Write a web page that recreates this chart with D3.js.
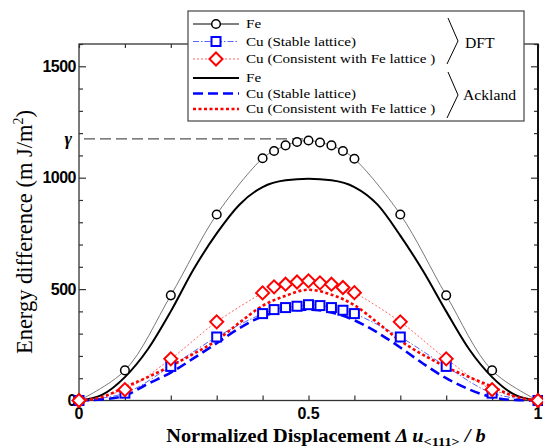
<!DOCTYPE html>
<html>
<head>
<meta charset="utf-8">
<script src="https://cdn.jsdelivr.net/npm/d3@7"></script>
<style>
  html, body { margin: 0; padding: 0; background: #fff; }
  svg { display: block; }
</style>
</head>
<body>
<div id="chart"></div>
<script>
// ── data ──
const xDft        = [0, 0.1, 0.2, 0.3, 0.4, 0.425, 0.45, 0.475, 0.5, 0.525, 0.55, 0.575, 0.6, 0.7, 0.8, 0.9, 1];
const dftFe       = [0, 135, 472, 835, 1087, 1120, 1145, 1160, 1167, 1158, 1145, 1120, 1085, 835, 472, 135, 0];
const dftCuStable = [0, 33, 153, 285, 390, 408, 417, 423, 430, 426, 417, 405, 390, 285, 153, 33, 0];
const dftCuFeLat  = [0, 49, 187, 353, 483, 510, 522, 532, 537, 528, 522, 507, 484, 353, 187, 49, 0];

const xAck        = [0, 0.05, 0.1, 0.15, 0.2, 0.25, 0.3, 0.35, 0.4, 0.45, 0.5, 0.55, 0.6, 0.65, 0.7, 0.75, 0.8, 0.85, 0.9, 0.95, 1];
const ackFe       = [0, 25, 105, 230, 400, 590, 750, 880, 958, 988, 995, 988, 958, 880, 740, 580, 400, 230, 105, 25, 0];
const ackCuStable = [0, 5, 22, 75, 125, 190, 257, 325, 378, 403, 408, 395, 360, 305, 238, 165, 100, 50, 15, 2, 0];
const ackCuFeLat  = [0, 15, 60, 105, 155, 210, 270, 350, 425, 470, 497, 475, 428, 350, 268, 205, 150, 105, 62, 18, 0];

const gammaValue  = 1174;
const xTickLabels = [0, 0.5, 1];
const yTickLabels = [0, 500, 1000, 1500];

const legendRows = [
  "Fe", "Cu (Stable lattice)", "Cu (Consistent with Fe lattice )",
  "Fe", "Cu (Stable lattice)", "Cu (Consistent with Fe lattice )"
];

// ── layout ──
const W = 543, H = 448;
const pLeft = 79, pRight = 538, pTop = 44, pBottom = 400.5;
const SERIF = "Liberation Serif, Times New Roman, serif";
const SANS  = "Liberation Sans, Arial, sans-serif";

const svg = d3.select("#chart").append("svg").attr("width", W).attr("height", H);

const x = d3.scaleLinear().domain([0, 1]).range([pLeft, pRight]);
const y = d3.scaleLinear().domain([0, 1600]).range([pBottom, pTop]);

const BLUE = "#0000ff", RED = "#ff0000";

// ── axes (ticks inward, mirrored) ──
const majorY = (v) => v % 500 === 0;
const axisG = svg.append("g");

axisG.append("g").attr("transform", `translate(${pLeft},0)`)
  .call(d3.axisRight(y).tickValues(d3.range(0, 1601, 100)).tickSize(4).tickFormat(""))
  .call((g) => g.selectAll(".tick line").attr("x2", (d) => majorY(d) ? 7 : 4))
  .call((g) => g.select(".domain").remove());
axisG.append("g").attr("transform", `translate(${pRight},0)`)
  .call(d3.axisLeft(y).tickValues(d3.range(0, 1601, 100)).tickSize(4).tickFormat(""))
  .call((g) => g.selectAll(".tick line").attr("x2", (d) => majorY(d) ? -7 : -4))
  .call((g) => g.select(".domain").remove());
axisG.append("g").attr("transform", `translate(0,${pBottom})`)
  .call(d3.axisTop(x).tickValues(d3.range(0, 1.01, 0.1)).tickSize(5).tickFormat(""))
  .call((g) => g.select(".domain").remove());
axisG.append("g").attr("transform", `translate(0,${pTop})`)
  .call(d3.axisBottom(x).tickValues(d3.range(0, 1.01, 0.1)).tickSize(4).tickFormat(""))
  .call((g) => g.select(".domain").remove());
axisG.selectAll(".tick line").attr("stroke", "#333").attr("stroke-width", 1.2);

svg.append("rect")
  .attr("x", pLeft).attr("y", pTop)
  .attr("width", pRight - pLeft).attr("height", pBottom - pTop)
  .attr("fill", "none").attr("stroke", "#333").attr("stroke-width", 1.3);
svg.append("line")
  .attr("x1", pRight).attr("x2", pRight).attr("y1", pTop).attr("y2", pBottom)
  .attr("stroke", "#111").attr("stroke-width", 2);

// tick labels
svg.append("g").selectAll("text").data(yTickLabels).join("text")
  .attr("x", pLeft - 3).attr("y", (d) => y(d)).attr("dy", "0.36em")
  .attr("text-anchor", "end")
  .attr("font-family", SANS)
  .attr("font-weight", "bold").attr("font-size", 16)
  .attr("letter-spacing", "-0.5")
  .text((d) => d);
svg.append("g").selectAll("text").data(xTickLabels).join("text")
  .attr("x", (d) => x(d)).attr("y", pBottom + 18)
  .attr("text-anchor", "middle")
  .attr("font-family", SANS)
  .attr("font-weight", "bold").attr("font-size", 16)
  .text((d) => d);

// gamma reference
svg.append("line")
  .attr("x1", pLeft + 5).attr("x2", x(0.5))
  .attr("y1", y(gammaValue)).attr("y2", y(gammaValue))
  .attr("stroke", "#555").attr("stroke-width", 1.2).attr("stroke-dasharray", "11,5");
svg.append("text")
  .attr("x", pLeft - 7).attr("y", y(gammaValue)).attr("dy", "0.35em")
  .attr("text-anchor", "end")
  .attr("font-family", SERIF)
  .attr("font-style", "italic").attr("font-weight", "bold").attr("font-size", 18)
  .text("γ");

// axis titles (source figure is stretched ~1.1x horizontally)
const xt = svg.append("g").attr("transform", "translate(326,442) scale(1.1,1)")
  .append("text").attr("text-anchor", "middle")
  .attr("font-family", SERIF)
  .attr("font-weight", "bold").attr("font-size", 18.5);
xt.append("tspan").text("Normalized Displacement ");
xt.append("tspan").attr("font-style", "italic").text("Δ u");
xt.append("tspan").attr("font-size", 13).attr("dy", 4).text("<111>");
xt.append("tspan").attr("dy", -4).attr("font-style", "italic").text(" / b");

const yt = svg.append("text")
  .attr("transform", "translate(32,232) rotate(-90)")
  .attr("text-anchor", "middle")
  .attr("font-family", SERIF)
  .attr("font-size", 22.5);
yt.append("tspan").text("Energy difference (m J/m");
yt.append("tspan").attr("font-size", 14).attr("dy", -9).text("2");
yt.append("tspan").attr("dy", 9).text(")");

// ── curves ──
const plot = svg.append("g");
const smooth = (xs, ys, curve) => d3.line()
  .x((d, i) => x(xs[i])).y((d) => y(d)).curve(curve)(ys);

// DFT connecting lines (thin)
plot.append("path").attr("d", smooth(xDft, dftFe, d3.curveCatmullRom.alpha(0.5)))
  .attr("fill", "none").attr("stroke", "#777").attr("stroke-width", 1);
plot.append("path").attr("d", smooth(xDft, dftCuStable, d3.curveCatmullRom.alpha(0.5)))
  .attr("fill", "none").attr("stroke", "#5566ff").attr("stroke-width", 1)
  .attr("stroke-dasharray", "6,2,1.5,2");
plot.append("path").attr("d", smooth(xDft, dftCuFeLat, d3.curveCatmullRom.alpha(0.5)))
  .attr("fill", "none").attr("stroke", "#ff6666").attr("stroke-width", 1)
  .attr("stroke-dasharray", "2,2");

// Ackland (thick)
plot.append("path").attr("d", smooth(xAck, ackFe, d3.curveMonotoneX))
  .attr("fill", "none").attr("stroke", "#000").attr("stroke-width", 2);
plot.append("path").attr("d", smooth(xAck, ackCuStable, d3.curveMonotoneX))
  .attr("fill", "none").attr("stroke", BLUE).attr("stroke-width", 2.6)
  .attr("stroke-dasharray", "10,5");
plot.append("path").attr("d", smooth(xAck, ackCuFeLat, d3.curveMonotoneX))
  .attr("fill", "none").attr("stroke", RED).attr("stroke-width", 2.6)
  .attr("stroke-dasharray", "3,2.5");

// markers
const sq = 9, dia = 6.5;
const drawCircle = (g, cx, cy) => g.append("circle").attr("cx", cx).attr("cy", cy).attr("r", 4.3)
  .attr("fill", "#fff").attr("stroke", "#000").attr("stroke-width", 1.5);
const drawSquare = (g, cx, cy) => g.append("rect").attr("x", cx - sq / 2).attr("y", cy - sq / 2)
  .attr("width", sq).attr("height", sq)
  .attr("fill", "#fff").attr("stroke", BLUE).attr("stroke-width", 2);
const drawDiamond = (g, cx, cy) => g.append("path")
  .attr("d", `M${cx},${cy - dia}L${cx + dia},${cy}L${cx},${cy + dia}L${cx - dia},${cy}Z`)
  .attr("fill", "#fff").attr("stroke", RED).attr("stroke-width", 2);

const markers = svg.append("g");
xDft.forEach((v, i) => drawCircle(markers, x(v), y(dftFe[i])));
xDft.forEach((v, i) => drawSquare(markers, x(v), y(dftCuStable[i])));
xDft.forEach((v, i) => drawDiamond(markers, x(v), y(dftCuFeLat[i])));

// ── legend ──
const lg = svg.append("g");
lg.append("rect").attr("x", 188).attr("y", 11).attr("width", 336).attr("height", 110)
  .attr("fill", "#fff").attr("stroke", "#444").attr("stroke-width", 1.2);

const rowY = [24, 41.5, 59, 78, 93.5, 109];
const sx0 = 193, sx1 = 239, sxm = 216;
const rowStyles = [
  { stroke: "#000", w: 1, dash: null },
  { stroke: "#5566ff", w: 1, dash: "6,2,1.5,2" },
  { stroke: "#ff6666", w: 1, dash: "2,2" },
  { stroke: "#000", w: 2, dash: null },
  { stroke: BLUE, w: 2.6, dash: "10,5" },
  { stroke: RED, w: 2.6, dash: "3,2.5" }
];
rowStyles.forEach((s, i) => {
  lg.append("line").attr("x1", sx0).attr("x2", sx1).attr("y1", rowY[i]).attr("y2", rowY[i])
    .attr("stroke", s.stroke).attr("stroke-width", s.w).attr("stroke-dasharray", s.dash);
});
drawCircle(lg, sxm, rowY[0]);
drawSquare(lg, sxm, rowY[1]);
drawDiamond(lg, sxm, rowY[2]);

const lgText = lg.append("g").attr("transform", "translate(246,0) scale(1.12,1)");
lgText.selectAll("text").data(legendRows).join("text")
  .attr("x", 0).attr("y", (d, i) => rowY[i]).attr("dy", "0.33em")
  .attr("font-family", SERIF)
  .attr("font-size", 13.5)
  .text((d) => d);

// braces
const brace = (y0, y1) => `M448,${y0}L458,${(y0 + y1) / 2}L447,${y1}`;
lg.append("path").attr("d", brace(18, 64)).attr("fill", "none").attr("stroke", "#000").attr("stroke-width", 1);
lg.append("path").attr("d", brace(72, 118)).attr("fill", "none").attr("stroke", "#000").attr("stroke-width", 1);
lg.append("g").attr("transform", "translate(465,43) scale(1.12,1)")
  .append("text").attr("dy", "0.35em")
  .attr("font-family", SERIF).attr("font-size", 14).text("DFT");
lg.append("g").attr("transform", "translate(463,95) scale(1.12,1)")
  .append("text").attr("dy", "0.35em")
  .attr("font-family", SERIF).attr("font-size", 14).text("Ackland");
</script>
</body>
</html>
